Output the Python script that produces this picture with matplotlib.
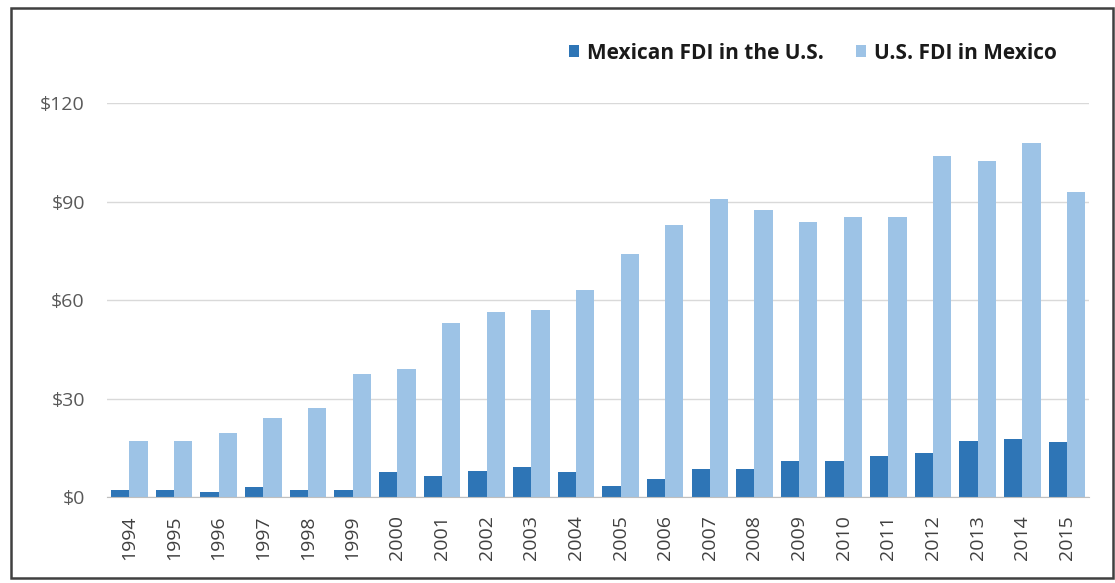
import matplotlib.pyplot as plt
import numpy as np
from matplotlib.patches import Rectangle

years = [str(y) for y in range(1994, 2016)]
mexican_fdi_us = [2, 2, 1.5, 3, 2, 2, 7.5, 6.5, 8, 9, 7.5, 3.5, 5.5, 8.5, 8.5,
                  11, 11, 12.5, 13.5, 17, 17.8, 16.8]
us_fdi_mexico = [17, 17, 19.5, 24, 27, 37.5, 39, 53, 56.5, 57, 63, 74, 83, 91,
                 87.5, 84, 85.5, 85.5, 104, 102.5, 108, 93]
y_ticks = [0, 30, 60, 90, 120]

DARK = "#2e75b6"
LIGHT = "#9dc3e6"
TEXT = "#595959"

plt.rcParams["font.family"] = ["Open Sans", "DejaVu Sans"]

fig = plt.figure(figsize=(11.15, 5.83), dpi=100)
ax = fig.add_axes([0.096, 0.1475, 0.881, 0.675])

x = np.arange(len(years))
w = 0.41
ax.bar(x - w / 2, mexican_fdi_us, width=w, color=DARK, label="Mexican FDI in the U.S.", zorder=3)
ax.bar(x + w / 2, us_fdi_mexico, width=w, color=LIGHT, label="U.S. FDI in Mexico", zorder=3)

ax.set_xlim(-0.5, len(years) - 0.5)
ax.set_ylim(0, 120)
ax.set_yticks(y_ticks)
ax.set_yticklabels([f"${v}" for v in y_ticks], fontsize=14, color=TEXT)
ax.set_xticks(x)
ax.set_xticklabels(years, rotation=90, fontsize=14, color="#404040")
ax.tick_params(axis="y", length=0, pad=16)
ax.tick_params(axis="x", length=0, pad=13)
ax.yaxis.grid(True, color="#d9d9d9", linewidth=1, zorder=0)
ax.set_axisbelow(True)
for s in ["top", "right", "left"]:
    ax.spines[s].set_visible(False)
ax.spines["bottom"].set_color("#bfbfbf")
ax.spines["bottom"].set_zorder(4)

leg = fig.legend(loc="center right", bbox_to_anchor=(0.965, 0.909), ncol=2, frameon=False,
                 prop={"weight": "bold", "size": 15}, handlelength=0.5, handleheight=0.5,
                 handletextpad=0.4, columnspacing=1.5)
for t in leg.get_texts():
    t.set_color("#1a1a1a")

fig.patches.append(Rectangle((0.0099, 0.009), 0.988, 0.977, transform=fig.transFigure,
                             fill=False, edgecolor="#404040", linewidth=1.8))

fig.savefig("out.png", dpi=100)
